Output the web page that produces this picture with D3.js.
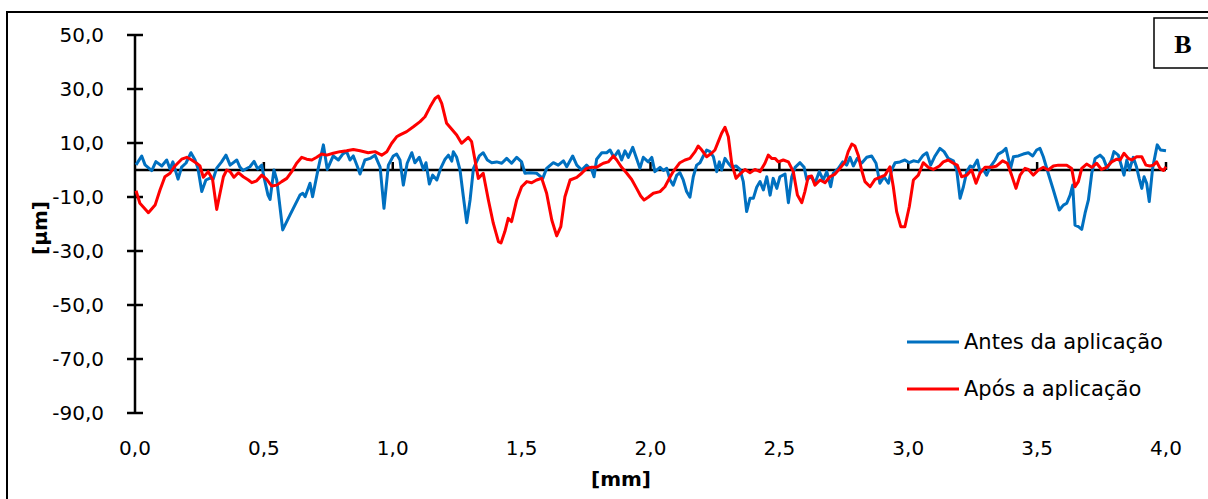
<!DOCTYPE html>
<html>
<head>
<meta charset="utf-8">
<script src="https://cdn.jsdelivr.net/npm/d3@7"></script>
<style>
  body { margin: 0; background: #fff; }
  svg { display: block; font-family: "DejaVu Sans", sans-serif; }
</style>
</head>
<body>
<svg id="chart" width="1208" height="499"></svg>
<script>
// Tick labels
const xTicks = [0, 0.5, 1, 1.5, 2, 2.5, 3, 3.5, 4];
const yTicks = [50, 30, 10, -10, -30, -50, -70, -90];

// Series names
const seriesNames = ["Antes da aplicação", "Após a aplicação"];

// "Antes da aplicação" profile (mm, µm)
const antesX = [0.004,0.026,0.039,0.065,0.081,0.104,0.123,0.136,0.147,0.167,0.181,0.198,0.217,0.233,0.244,0.259,0.275,0.291,0.303,0.317,0.336,0.353,0.369,0.395,0.407,0.419,0.446,0.462,0.476,0.492,0.500,0.516,0.524,0.539,0.550,0.573,0.601,0.640,0.651,0.660,0.679,0.689,0.711,0.731,0.746,0.769,0.789,0.806,0.821,0.834,0.847,0.862,0.873,0.892,0.912,0.931,0.951,0.966,0.983,1.002,1.015,1.028,1.041,1.056,1.074,1.086,1.103,1.119,1.129,1.142,1.155,1.171,1.186,1.203,1.216,1.229,1.235,1.248,1.261,1.274,1.287,1.300,1.313,1.336,1.351,1.367,1.384,1.403,1.423,1.442,1.461,1.481,1.500,1.513,1.532,1.558,1.582,1.597,1.623,1.642,1.662,1.675,1.698,1.714,1.733,1.752,1.772,1.781,1.791,1.811,1.830,1.843,1.858,1.875,1.888,1.901,1.914,1.931,1.946,1.959,1.972,1.991,2.005,2.017,2.037,2.050,2.063,2.076,2.088,2.102,2.114,2.127,2.140,2.153,2.166,2.179,2.192,2.205,2.218,2.231,2.244,2.257,2.267,2.276,2.289,2.302,2.315,2.332,2.347,2.360,2.373,2.386,2.399,2.412,2.425,2.438,2.451,2.464,2.476,2.490,2.502,2.522,2.535,2.548,2.561,2.580,2.596,2.606,2.625,2.638,2.655,2.670,2.684,2.699,2.709,2.729,2.746,2.761,2.774,2.787,2.802,2.819,2.839,2.858,2.875,2.890,2.906,2.923,2.936,2.949,2.968,2.987,3.004,3.020,3.039,3.058,3.072,3.087,3.104,3.123,3.139,3.155,3.175,3.188,3.201,3.214,3.227,3.240,3.252,3.268,3.278,3.291,3.304,3.317,3.337,3.349,3.366,3.379,3.388,3.397,3.408,3.427,3.446,3.466,3.483,3.498,3.511,3.524,3.543,3.563,3.586,3.602,3.615,3.628,3.638,3.647,3.660,3.673,3.686,3.699,3.712,3.725,3.744,3.757,3.772,3.789,3.798,3.815,3.828,3.837,3.848,3.858,3.873,3.886,3.896,3.906,3.915,3.925,3.935,3.948,3.966,3.979,4.000];
const antesY = [1.9,5.2,1.9,-0.2,3.1,1.5,3.7,0.4,3.0,-3.4,1.1,2.6,6.4,3.7,0.7,-8.0,-3.7,-3.0,-3.4,0.7,3.0,5.5,1.8,3.7,1.1,-0.2,1.2,3.2,0.4,1.8,-2.5,-9.3,-10.9,0.0,-3.7,-22.2,-16.7,-9.3,-8.6,-9.9,-4.9,-9.9,0.6,9.3,0.2,5.2,3.7,5.9,6.8,3.7,5.2,1.5,-1.5,3.7,4.3,5.5,1.1,-14.2,1.8,5.2,5.9,3.7,-5.6,2.5,6.4,2.7,4.7,0.2,2.7,-5.2,-1.9,-3.7,0.6,4.0,5.5,3.3,6.8,4.7,0.0,-9.9,-19.5,-11.1,0.6,5.2,6.4,3.7,2.7,3.0,2.5,4.3,2.5,4.7,3.0,-1.2,-1.0,-1.2,-3.1,0.6,2.7,1.8,3.4,1.2,5.2,1.8,0.0,1.8,0.0,-2.5,4.0,6.4,6.4,7.4,4.7,7.1,3.7,7.1,4.7,8.4,4.3,0.6,4.7,3.0,4.7,-0.6,1.0,-0.2,0.6,-3.7,-5.6,-1.9,-1.0,-3.7,-8.0,-10.1,-2.5,1.8,2.7,5.2,7.4,6.8,4.9,-0.6,3.0,0.0,4.3,2.5,1.0,1.5,0.2,-4.3,-15.4,-10.5,-10.5,-6.4,-4.3,-7.4,-2.5,-9.3,-3.1,-6.8,-2.5,-1.5,-12.1,-2.5,1.0,2.7,1.0,-3.5,-2.5,-4.9,-0.6,-3.7,-0.6,-6.2,-1.2,0.6,3.0,1.8,4.7,1.5,4.3,2.5,4.7,5.2,2.5,-4.9,-2.5,-4.9,0.2,2.7,3.0,3.7,2.7,3.4,3.0,5.5,6.4,1.8,5.2,8.0,6.8,4.3,3.4,0.0,-10.5,-6.2,-0.6,1.5,1.0,3.7,-0.6,0.2,-1.9,1.0,3.7,5.9,6.8,8.0,4.3,0.6,4.9,5.2,5.9,6.4,5.2,7.4,8.0,4.9,-1.2,-7.4,-14.8,-13.0,-12.3,-9.3,-5.6,-20.4,-21.0,-22.0,-16.0,-11.1,-1.2,4.3,5.5,4.3,0.6,3.7,6.8,5.5,1.2,-1.9,3.7,0.0,4.7,1.0,-3.1,-6.8,-2.5,-4.9,-11.7,0.6,9.3,7.4,7.1];

// "Após a aplicação" profile (mm, µm)
const aposX = [0.004,0.019,0.052,0.078,0.097,0.116,0.136,0.155,0.181,0.201,0.220,0.239,0.252,0.265,0.284,0.301,0.317,0.327,0.343,0.356,0.369,0.384,0.401,0.420,0.440,0.453,0.472,0.492,0.511,0.530,0.550,0.569,0.589,0.608,0.627,0.647,0.666,0.686,0.705,0.724,0.744,0.769,0.795,0.821,0.847,0.873,0.905,0.931,0.957,0.977,0.996,1.015,1.028,1.054,1.080,1.106,1.125,1.145,1.164,1.177,1.190,1.209,1.229,1.248,1.267,1.293,1.306,1.319,1.332,1.351,1.371,1.390,1.410,1.420,1.435,1.448,1.461,1.481,1.500,1.520,1.539,1.558,1.578,1.597,1.617,1.636,1.652,1.668,1.688,1.714,1.733,1.752,1.772,1.791,1.804,1.817,1.836,1.856,1.869,1.888,1.908,1.927,1.946,1.962,1.975,1.991,2.011,2.037,2.056,2.073,2.088,2.114,2.134,2.153,2.173,2.185,2.199,2.218,2.237,2.250,2.263,2.276,2.289,2.302,2.315,2.332,2.347,2.367,2.386,2.405,2.425,2.444,2.457,2.470,2.483,2.496,2.515,2.535,2.554,2.570,2.587,2.599,2.612,2.625,2.638,2.658,2.677,2.696,2.716,2.735,2.755,2.767,2.781,2.793,2.806,2.819,2.832,2.852,2.871,2.890,2.910,2.929,2.942,2.955,2.971,2.987,3.004,3.020,3.039,3.058,3.078,3.097,3.121,3.136,3.155,3.175,3.190,3.207,3.227,3.246,3.263,3.278,3.298,3.324,3.343,3.366,3.384,3.401,3.418,3.434,3.453,3.466,3.485,3.505,3.524,3.543,3.563,3.582,3.615,3.634,3.647,3.660,3.673,3.692,3.712,3.731,3.750,3.770,3.789,3.809,3.822,3.837,3.854,3.867,3.886,3.906,3.922,3.938,3.951,3.964,3.977,3.990,4.000];
const aposY = [-7.7,-12.3,-15.8,-13.0,-7.4,-2.5,-1.2,1.5,4.0,4.7,3.7,2.5,1.5,-2.7,-0.6,-3.5,-14.6,-9.9,-2.5,0.0,-0.6,-2.7,-1.0,-2.5,-3.7,-4.7,-4.0,-1.9,-3.5,-5.9,-5.6,-4.3,-3.1,-0.6,2.5,4.7,4.0,3.7,4.7,5.9,5.5,6.2,6.8,7.1,7.6,7.1,6.4,6.8,5.5,6.8,9.9,12.3,13.0,14.2,16.0,17.9,19.7,23.4,26.5,27.4,24.7,17.3,15.1,13.0,9.9,12.1,10.5,3.7,-3.1,-1.2,-11.1,-19.7,-26.5,-27.0,-22.8,-17.9,-19.1,-11.1,-6.2,-4.3,-4.7,-3.7,-3.1,-8.6,-18.5,-24.4,-21.0,-9.9,-3.7,-2.7,-1.2,0.6,1.0,1.0,1.8,2.5,3.0,5.2,3.7,1.0,-1.2,-3.5,-6.8,-9.6,-11.1,-10.1,-8.6,-8.0,-6.2,-3.1,-0.6,2.7,3.7,4.3,6.8,8.9,7.4,4.9,6.2,7.4,10.5,13.6,15.8,12.3,2.5,-3.1,-1.5,0.2,-1.0,0.2,-0.6,2.5,5.5,4.3,4.3,3.0,3.7,3.0,-0.6,-9.3,-12.1,-8.0,-2.5,-2.2,-5.6,-3.7,-4.7,-2.5,-1.5,0.6,3.0,6.8,9.6,8.9,5.5,0.0,-4.3,-6.2,-3.5,-2.7,-1.9,1.2,-6.2,-15.4,-21.0,-21.0,-13.6,-3.7,-1.9,2.7,1.0,0.2,1.5,3.0,3.7,2.5,1.8,-2.5,-1.9,0.0,-4.9,-1.2,1.0,1.0,1.5,3.4,2.5,-1.9,-6.8,-1.9,0.6,0.2,-1.9,0.0,1.0,0.0,1.5,1.8,1.8,0.6,-6.2,-4.3,0.6,2.2,1.0,2.5,0.2,1.0,3.0,4.0,3.7,6.2,4.3,3.7,4.9,4.9,1.8,1.5,1.8,3.0,0.6,-0.2,1.2];

const antes = antesX.map((x, i) => ({ x: x, y: antesY[i] }));
const apos = aposX.map((x, i) => ({ x: x, y: aposY[i] }));

const svg = d3.select("#chart");

// outer frame (right/bottom edges fall outside the picture)
svg.append("rect")
  .attr("x", 7).attr("y", 12)
  .attr("width", 1210).attr("height", 500)
  .attr("fill", "none").attr("stroke", "#000").attr("stroke-width", 2);

// scales
const x = d3.scaleLinear().domain([0, 4]).range([135, 1166]);
const y = d3.scaleLinear().domain([-90, 50]).range([413, 35]);

// y axis line + ticks crossing it
svg.append("line")
  .attr("x1", x(0)).attr("x2", x(0))
  .attr("y1", y(50)).attr("y2", y(-90))
  .attr("stroke", "#000").attr("stroke-width", 2.5);

svg.selectAll(".ytick")
  .data(yTicks)
  .enter()
  .append("line")
  .attr("class", "ytick")
  .attr("x1", x(0) - 8).attr("x2", x(0) + 8)
  .attr("y1", (d) => y(d)).attr("y2", (d) => y(d))
  .attr("stroke", "#000").attr("stroke-width", 2.5);

svg.selectAll(".ylabel")
  .data(yTicks)
  .enter()
  .append("text")
  .attr("class", "ylabel")
  .attr("x", 104)
  .attr("y", (d) => y(d))
  .attr("dy", "0.36em")
  .attr("text-anchor", "end")
  .attr("font-size", 20)
  .attr("fill", "#000")
  .text((d) => d3.format(".1f")(d).replace(".", ",").replace("−", "-"));

// x axis sits on zero, small ticks pointing up
svg.append("line")
  .attr("x1", x(0)).attr("x2", x(4))
  .attr("y1", y(0)).attr("y2", y(0))
  .attr("stroke", "#000").attr("stroke-width", 2.5);

svg.selectAll(".xtick")
  .data(xTicks.slice(1))
  .enter()
  .append("line")
  .attr("class", "xtick")
  .attr("x1", (d) => x(d)).attr("x2", (d) => x(d))
  .attr("y1", y(0)).attr("y2", y(0) - 8)
  .attr("stroke", "#000").attr("stroke-width", 2.5);

svg.selectAll(".xlabel")
  .data(xTicks)
  .enter()
  .append("text")
  .attr("class", "xlabel")
  .attr("x", (d) => x(d))
  .attr("y", 455)
  .attr("text-anchor", "middle")
  .attr("font-size", 20)
  .attr("fill", "#000")
  .text((d) => d3.format(".1f")(d).replace(".", ","));

// axis titles
svg.append("text")
  .attr("x", 621).attr("y", 486)
  .attr("text-anchor", "middle")
  .attr("font-size", 20).attr("font-weight", "bold")
  .text("[mm]");

svg.append("text")
  .attr("transform", "translate(47,228) rotate(-90)")
  .attr("text-anchor", "middle")
  .attr("font-size", 20).attr("font-weight", "bold")
  .text("[µm]");

// series lines
const line = d3.line()
  .x((d) => x(d.x))
  .y((d) => y(d.y));

svg.append("path")
  .datum(antes)
  .attr("d", line)
  .attr("fill", "none")
  .attr("stroke", "#0070C0")
  .attr("stroke-width", 3)
  .attr("stroke-linejoin", "round");

svg.append("path")
  .datum(apos)
  .attr("d", line)
  .attr("fill", "none")
  .attr("stroke", "#FF0000")
  .attr("stroke-width", 3)
  .attr("stroke-linejoin", "round");

// legend
const legendColors = ["#0070C0", "#FF0000"];
const legend = svg.selectAll(".legend")
  .data(seriesNames)
  .enter()
  .append("g")
  .attr("class", "legend")
  .attr("transform", (d, i) => "translate(907," + (342 + i * 47) + ")");

legend.append("line")
  .attr("x1", 0).attr("x2", 52)
  .attr("stroke", (d, i) => legendColors[i])
  .attr("stroke-width", 3);

legend.append("text")
  .attr("x", 57).attr("dy", "0.35em")
  .attr("font-size", 21)
  .attr("fill", "#000")
  .text((d) => d);

// panel letter box
svg.append("rect")
  .attr("x", 1154).attr("y", 18)
  .attr("width", 60).attr("height", 50)
  .attr("fill", "#fff").attr("stroke", "#000").attr("stroke-width", 1.5);

svg.append("text")
  .attr("x", 1183).attr("y", 53)
  .attr("text-anchor", "middle")
  .attr("font-family", "Liberation Serif, serif")
  .attr("font-size", 26).attr("font-weight", "bold")
  .text("B");
</script>
</body>
</html>
